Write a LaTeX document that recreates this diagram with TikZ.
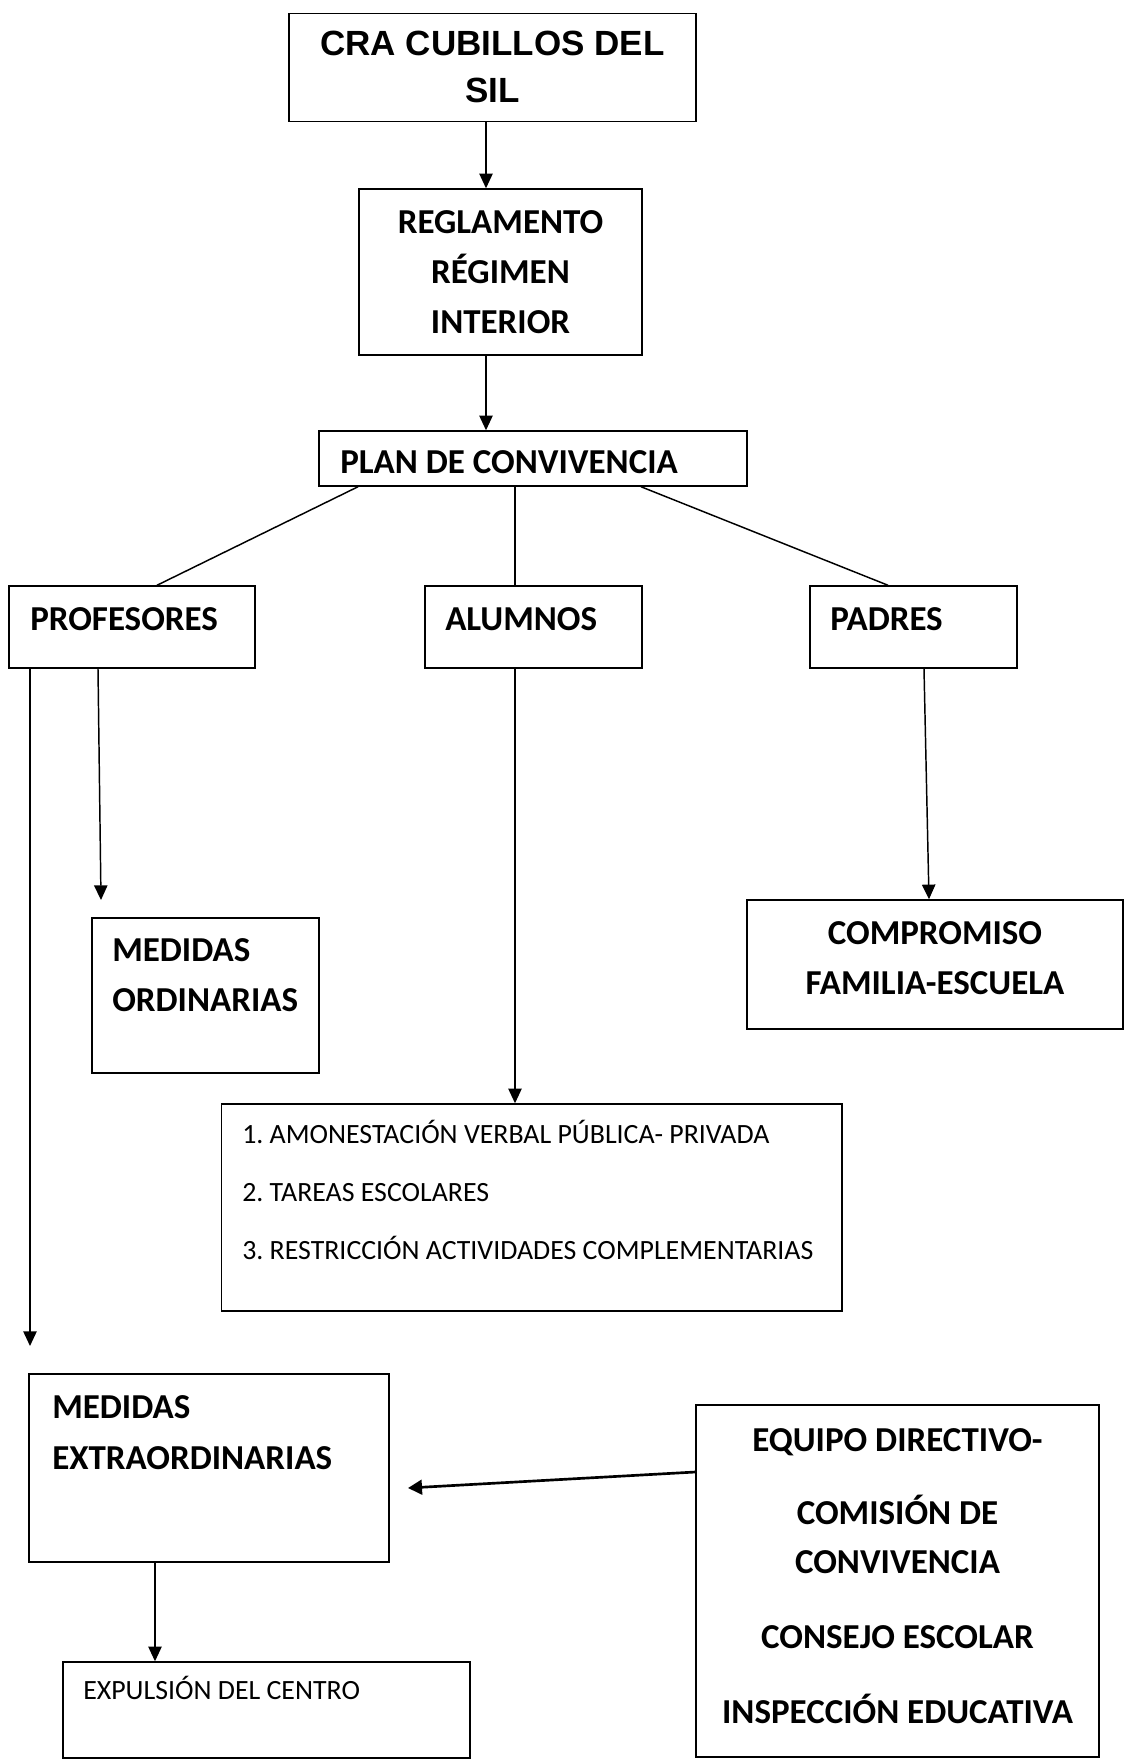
\documentclass[tikz,border=0pt]{standalone}
\usepackage{fontspec}
\setmainfont{Carlito}
\newfontfamily\arialf{Liberation Sans}
\usetikzlibrary{arrows.meta,fit}
\frenchspacing
\begin{document}
\begin{tikzpicture}[x=0.75pt,y=-0.75pt,
  box/.style={draw, line width=1.1pt, inner sep=0pt},
  arr/.style={line width=1.1pt, -{Triangle[length=11pt,width=10pt]}},
  thickarr/.style={line width=2pt, -{Triangle[length=10.5pt,width=11pt]}},
  link/.style={line width=1.1pt},
  bt/.style={font=\fontsize{26.25}{30}\selectfont\bfseries, inner sep=0pt},
  arialtext/.style={font=\arialf\fontsize{26.25}{30}\selectfont\bfseries, inner sep=0pt},
  rt/.style={font=\fontsize{20.9}{24}\selectfont, inner sep=0pt}]
\useasboundingbox (0,0) rectangle (1128,1764);

% boxes
\node[box, fit={(289,13.5) (696,121.5)}] (top) {};
\node[box, fit={(359,189) (642,355)}] (regl) {};
\node[box, fit={(319,431) (747,486)}] (plan) {};
\node[box, fit={(9,586) (255,668)}] (prof) {};
\node[box, fit={(425,586) (642,668)}] (alum) {};
\node[box, fit={(810,586) (1017,668)}] (padr) {};
\node[box, fit={(92,918) (319,1073)}] (mord) {};
\node[box, fit={(221.5,1104) (842,1311)}] (list) {};
\node[box, fit={(747,900) (1123,1029)}] (comp) {};
\node[box, fit={(29,1374) (389,1562)}] (mext) {};
\node[box, fit={(696,1405) (1099,1757)}] (equi) {};
\node[box, fit={(63,1662) (470,1758)}] (expu) {};

% texts
\node[arialtext, anchor=base] (t1a) at (492.5,55.5) {CRA CUBILLOS DEL};
\node[arialtext, anchor=base] (t1b) at (492.5,102.5) {SIL};
\node[bt, anchor=base] (t2a) at (500.5,233) {REGLAMENTO};
\node[bt, anchor=base] (t2b) at (500.5,283) {RÉGIMEN};
\node[bt, anchor=base] (t2c) at (500.5,333) {INTERIOR};
\node[bt, anchor=base west] (t3) at (340,473) {PLAN DE CONVIVENCIA};
\node[bt, anchor=base west] (t4) at (30,630) {PROFESORES};
\node[bt, anchor=base west] (t5) at (445,630) {ALUMNOS};
\node[bt, anchor=base west] (t6) at (830,630) {PADRES};
\node[bt, anchor=base west] (t7a) at (112,961) {MEDIDAS};
\node[bt, anchor=base west] (t7b) at (112,1011) {ORDINARIAS};
\node[rt, anchor=base west] (t8a) at (242,1143) {1. AMONESTACIÓN VERBAL PÚBLICA- PRIVADA};
\node[rt, anchor=base west] (t8b) at (242,1201) {2. TAREAS ESCOLARES};
\node[rt, anchor=base west] (t8c) at (242,1259.5) {3. RESTRICCIÓN ACTIVIDADES COMPLEMENTARIAS};
\node[bt, anchor=base] (t9a) at (935,944) {COMPROMISO};
\node[bt, anchor=base] (t9b) at (935,994) {FAMILIA-ESCUELA};
\node[bt, anchor=base west] (t10a) at (52,1418.5) {MEDIDAS};
\node[bt, anchor=base west] (t10b) at (52,1469) {EXTRAORDINARIAS};
\node[bt, anchor=base] (t11a) at (897.5,1451) {EQUIPO DIRECTIVO-};
\node[bt, anchor=base] (t11b) at (897.5,1524) {COMISIÓN DE};
\node[bt, anchor=base] (t11c) at (897.5,1573) {CONVIVENCIA};
\node[bt, anchor=base] (t11d) at (897.5,1648) {CONSEJO ESCOLAR};
\node[bt, anchor=base] (t11e) at (897.5,1723) {INSPECCIÓN EDUCATIVA};
\node[rt, anchor=base west] (t12) at (83,1699) {EXPULSIÓN DEL CENTRO};

% free ends
\coordinate (endlong) at (30,1346);
\coordinate (endord) at (101,900);
\coordinate (endext) at (408,1488);

% connectors
\draw[arr] (486,0 |- top.south) -- (486,0 |- regl.north);
\draw[arr] (486,0 |- regl.south) -- (486,0 |- plan.north);
\draw[link] (358,0 |- plan.south) -- (157,0 |- prof.north);
\draw[link] (515,0 |- plan.south) -- (515,0 |- alum.north);
\draw[link] (641,0 |- plan.south) -- (888,0 |- padr.north);
\draw[arr] (30,0 |- prof.south) -- (endlong);
\draw[arr] (98,0 |- prof.south) -- (endord);
\draw[arr] (515,0 |- alum.south) -- (515,0 |- list.north);
\draw[arr] (924,0 |- padr.south) -- (929,0 |- comp.north);
\draw[thickarr] (equi.west |- 0,1472) -- (endext);
\draw[arr] (155,0 |- mext.south) -- (155,0 |- expu.north);
\end{tikzpicture}
\end{document}
